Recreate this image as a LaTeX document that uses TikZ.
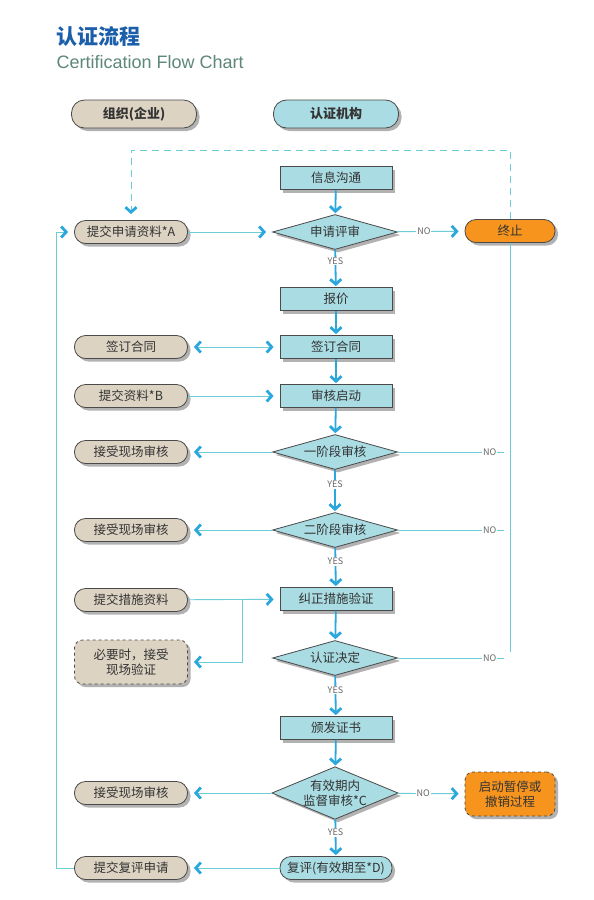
\documentclass[tikz,border=0pt]{standalone}
\usepackage{fontspec}
\setmainfont{Liberation Sans}
\newfontfamily\cjk{Noto Sans CJK SC}
\usetikzlibrary{shapes.geometric,arrows.meta,shadows}
\definecolor{orgfill}{HTML}{DCD3C3}
\definecolor{certfill}{HTML}{A9DCE3}
\definecolor{stopfill}{HTML}{F7941D}
\definecolor{linecyan}{HTML}{6CCCD8}
\definecolor{flowblue}{HTML}{2AA7DC}
\definecolor{edgegray}{HTML}{4A4A4A}
\definecolor{titleblue}{HTML}{1B5FAA}
\definecolor{subgray}{HTML}{5E877C}
\begin{document}
\begin{tikzpicture}[x=1pt,y=-1pt,
    every node/.style={font=\cjk\fontsize{12.5}{14.5}\selectfont,text=black!80},
    >={Straight Barb[length=5pt,width=11pt,line width=2.8pt,color=flowblue]},
    box/.style={draw=edgegray,line width=0.8pt,inner sep=0pt,minimum height=23pt,
      drop shadow={shadow xshift=3pt,shadow yshift=-3pt,fill=black,opacity=.3}},
    org/.style={box,fill=orgfill,rounded corners=11pt,minimum width=113pt},
    cert/.style={box,fill=certfill,minimum width=112pt},
    dec/.style={box,fill=certfill,diamond,aspect=3.6,minimum width=125pt,minimum height=35pt},
    head/.style={box,rounded corners=13pt,minimum width=125pt,minimum height=28pt,
      font=\cjk\bfseries\fontsize{13}{15}\selectfont},
    stop/.style={box,fill=stopfill,rounded corners=11pt,minimum width=90pt},
    maybe/.style={box,dashed,rounded corners=8pt,minimum height=44pt,align=center},
    flow/.style={->,flowblue,line width=1.8pt,shorten >=1pt},
    link/.style={->,linecyan,line width=0.9pt,shorten >=6pt},
    yn/.style={font=\cjk\fontsize{9}{10}\selectfont,text=black!60,fill=white,inner sep=1pt}]
  \fill[white] (0,0) rectangle (594,900);
  \node[anchor=west,font=\cjk\bfseries\fontsize{21}{24}\selectfont,text=titleblue] (ttl) at (53,36) {认证流程};
  \node[anchor=west,font=\fontsize{18}{20}\selectfont,text=subgray] (sub) at (53,62) {Certification Flow Chart};
  \draw
    (134,114) node[head,fill=orgfill] (h1){组织(企业)}
    (336,114) node[head,fill=certfill] (h2){认证机构}
    (336,178) node[cert] (c1){信息沟通}
    (335,232) node[dec] (c2){申请评审}
    (510,231) node[stop] (t){终止}
    (336,299) node[cert] (c3){报价}
    (336,347) node[cert] (c4){签订合同}
    (336,396) node[cert] (c5){审核启动}
    (335,452) node[dec] (c6){一阶段审核}
    (335,530) node[dec] (c7){二阶段审核}
    (336,599) node[cert] (c8){纠正措施验证}
    (335,658) node[dec] (c9){认证决定}
    (336,728) node[cert] (c10){颁发证书}
    (335,793) node[dec,aspect=2.4,minimum height=52pt,align=center] (c11){有效期内\\监督审核*C}
    (336,868) node[cert,rounded corners=11pt] (c12){复评(有效期至*D)}
    (510,794) node[maybe,fill=stopfill,minimum width=90pt] (s){启动暂停或\\撤销过程}
    (131,232) node[org] (o1){提交申请资料*A}
    (131,347) node[org] (o2){签订合同}
    (131,396) node[org] (o3){提交资料*B}
    (131,452) node[org] (o4){接受现场审核}
    (131,530) node[org] (o5){接受现场审核}
    (131,600) node[org] (o6){提交措施资料}
    (131,662) node[maybe,fill=orgfill,minimum width=113pt] (o7){必要时，接受\\现场验证}
    (131,793) node[org] (o8){接受现场审核}
    (131,868) node[org] (o9){提交复评申请};
  \coordinate (lp) at (56,0);
  \coordinate (dt) at (0,150);
  \coordinate (br) at (242,600);
  \begin{scope}[flow]
    \draw (c1) to (c2);
    \draw (c2) to node[yn,pos=.3]{YES} (c3);
    \draw (c3) to (c4);
    \draw (c4) to (c5);
    \draw (c5) to (c6);
    \draw (c6) to node[yn,pos=.35]{YES} (c7);
    \draw (c7) to node[yn,pos=.35]{YES} (c8);
    \draw (c8) to (c9);
    \draw (c9) to node[yn,pos=.35]{YES} (c10);
    \draw (c10) to (c11);
    \draw (c11) to node[yn,pos=.35]{YES} (c12);
  \end{scope}
  \begin{scope}[link]
    \draw (o1) to (c2);
    \draw (c2) to node[yn,pos=.4]{NO} (t);
    \draw[<->,shorten <=6pt] (o2) to (c4);
    \draw (o3) to (c5);
    \draw (c6) to (o4);
    \draw (c7) to (o5);
    \draw (o6) to (c8);
    \draw (br) |- (o7);
    \draw (c11) to (o8);
    \draw (c11) to node[yn,pos=.38]{NO} (s);
    \draw (c12) to (o9);
    \draw (o9) -- (o9 -| lp) |- (o1);
    \draw[dash pattern=on 7pt off 5pt] (t) |- (dt -| o1) -- (o1);
    \draw[-] (c6) -- node[yn,pos=.82]{NO} (c6 -| t);
    \draw[-] (c7) -- node[yn,pos=.82]{NO} (c7 -| t);
    \draw[-] (c9) -- node[yn,pos=.82]{NO} (c9 -| t);
    \draw[-] (t) -- (c9 -| t);
  \end{scope}
\end{tikzpicture}
\end{document}
